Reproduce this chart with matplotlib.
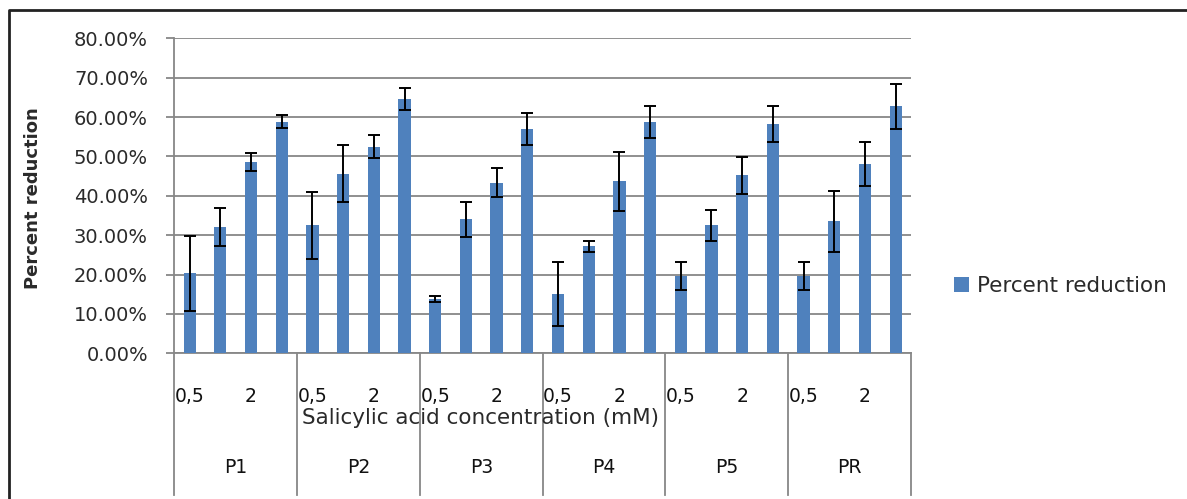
import matplotlib
matplotlib.use("Agg")
import matplotlib.pyplot as plt
import matplotlib.transforms as mtransforms
from matplotlib.lines import Line2D
from matplotlib.ticker import FuncFormatter
import numpy as np

groups = ["P1", "P2", "P3", "P4", "P5", "PR"]
conc_labels = ["0,5", "", "2", ""]
values = [20.3, 32.0, 48.6, 58.8,
          32.5, 45.6, 52.5, 64.6,
          13.8, 34.0, 43.3, 56.9,
          15.1, 27.2, 43.7, 58.8,
          19.6, 32.5, 45.2, 58.3,
          19.6, 33.5, 48.1, 62.7]
errors = [9.5, 4.8, 2.2, 1.7,
          8.5, 7.2, 2.9, 2.7,
          0.8, 4.4, 3.7, 4.1,
          8.2, 1.4, 7.5, 4.1,
          3.6, 3.9, 4.7, 4.6,
          3.6, 7.7, 5.6, 5.8]
series_name = "Percent reduction"
yticks = [0, 10, 20, 30, 40, 50, 60, 70, 80]

W, H = 1187, 499
fig = plt.figure(figsize=(W / 100, H / 100), dpi=100)
ax = fig.add_axes([174.3 / W, 1 - 353.3 / H, 736.7 / W, 315 / H])

n = len(values)
x = np.arange(n)
grid_c = "#878787"
txt_c = "#2a2a2a"
bars = ax.bar(x, values, width=0.4, color="#4F81BD", zorder=3, label=series_name)
ax.errorbar(x, values, yerr=errors, fmt="none", ecolor="black", elinewidth=1.4,
            capsize=4.6, capthick=1.4, zorder=4)

ax.set_xlim(-0.5, n - 0.5)
ax.set_ylim(0, 80)
ax.set_yticks(yticks)
ax.yaxis.set_major_formatter(FuncFormatter(lambda v, p: f"{v:.2f}%"))
ax.grid(axis="y", color=grid_c, linewidth=1.3, zorder=0)
ax.set_axisbelow(True)
for s in ["top", "right"]:
    ax.spines[s].set_visible(False)
for s in ["left", "bottom"]:
    ax.spines[s].set_color(grid_c)
    ax.spines[s].set_linewidth(1.3)
ax.tick_params(axis="y", length=6, width=1.3, color=grid_c, pad=13,
               labelsize=14, labelcolor=txt_c)
for t in ax.get_yticklabels():
    t.set_fontfamily("DejaVu Sans")
ax.set_xticks([])

trans = mtransforms.blended_transform_factory(ax.transData, ax.transAxes)
ngrp = len(groups)
per = n // ngrp
for g in range(ngrp + 1):
    xb = g * per - 0.5
    ax.add_line(Line2D([xb, xb], [0, -0.451], transform=trans, color=grid_c,
                       linewidth=1.3, clip_on=False))
for g, name in enumerate(groups):
    for k, lab in enumerate(conc_labels):
        if lab:
            ax.text(g * per + k, -0.136, lab, transform=trans, ha="center", va="center",
                    fontsize=13.5, family="DejaVu Sans", color="#111111", clip_on=False)
    ax.text(g * per + (per - 1) / 2, -0.361, name, transform=trans, ha="center",
            va="center", fontsize=13.5, family="DejaVu Sans", color="#111111", clip_on=False)

ax.text(0.415, -0.206, "Salicylic acid concentration (mM)", transform=ax.transAxes,
        ha="center", va="center", fontsize=15.5, family="DejaVu Sans",
        color=txt_c)
fig.text(33 / W, 1 - 198 / H, "Percent reduction", rotation=90, ha="center",
         va="center", fontsize=13, family="DejaVu Sans", fontweight="bold", color=txt_c)

leg = fig.legend(handles=[bars], labels=[series_name], loc="center left",
                 bbox_to_anchor=(954 / W, 1 - 286 / H), frameon=False,
                 borderaxespad=0, borderpad=0,
                 handlelength=0.68, handleheight=0.68, handletextpad=0.4,
                 prop={"family": "DejaVu Sans", "size": 15.5})
for t in leg.get_texts():
    t.set_color(txt_c)

# chart border (top and left edges visible)
fig.add_artist(Line2D([8.5 / W, 8.5 / W, 1.0], [0.0, 1 - 9.5 / H, 1 - 9.5 / H],
                      transform=fig.transFigure, color="#222222", linewidth=2))

fig.savefig("out.png", dpi=100, facecolor="white")
